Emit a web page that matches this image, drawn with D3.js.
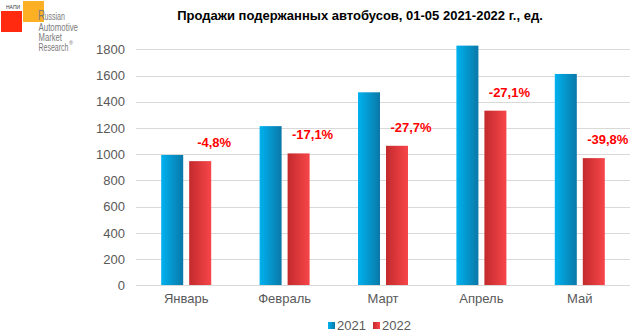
<!DOCTYPE html>
<html>
<head>
<meta charset="utf-8">
<script src="https://cdn.jsdelivr.net/npm/d3@7"></script>
<style>
  html, body { margin: 0; padding: 0; background: #fff; }
  svg { display: block; font-family: "Liberation Sans", Arial, sans-serif; }
</style>
</head>
<body>
<svg id="chart" width="636" height="334"></svg>
<script>
// Monthly sales of used buses, Jan–May
const months = ["Январь", "Февраль", "Март", "Апрель", "Май"];
const series = ["2021", "2022"];
const sales2021 = [994, 1214, 1472, 1828, 1612];
const sales2022 = [947, 1006, 1064, 1332, 970];
const changeLabels = ["-4,8%", "-17,1%", "-27,7%", "-27,1%", "-39,8%"];
const yTicks = [0, 200, 400, 600, 800, 1000, 1200, 1400, 1600, 1800];

const svg = d3.select("#chart");
const margin = { left: 137, right: 7, top: 49, bottom: 49 };
const W = 636, H = 334;

const x0 = d3.scaleBand().domain(months).range([margin.left, W - margin.right]).paddingInner(0).paddingOuter(0);
const x1 = d3.scaleBand().domain(series).range([0, x0.bandwidth()]).paddingInner(0.214).paddingOuter(0.864);
const y = d3.scaleLinear().domain([0, 1800]).range([H - margin.bottom + 0.3, margin.top + 0.3]);

// gradients
const defs = svg.append("defs");
function grad(id, c0, c1) {
  const g = defs.append("linearGradient").attr("id", id).attr("x1", "0").attr("x2", "1").attr("y1", "0").attr("y2", "0");
  g.append("stop").attr("offset", "0").attr("stop-color", c0);
  g.append("stop").attr("offset", "1").attr("stop-color", c1);
}
grad("gBlue", "#00b2ef", "#0a78a8");
grad("gRed", "#c32a2c", "#f7464a");
const fills = { "2021": "url(#gBlue)", "2022": "url(#gRed)" };

// gridlines
svg.append("g").selectAll("line").data(yTicks.filter(d => d > 0)).join("line")
  .attr("x1", margin.left - 1).attr("x2", W - margin.right + 1)
  .attr("y1", d => Math.round(y(d)) + 0.5).attr("y2", d => Math.round(y(d)) + 0.5)
  .attr("stroke", "#d9d9d9").attr("stroke-width", 1);

// y axis labels
const yAxis = d3.axisLeft(y).tickValues(yTicks).tickFormat(d3.format("d")).tickSize(0).tickPadding(12);
const gy = svg.append("g").attr("transform", `translate(${margin.left},0)`).call(yAxis);
gy.select(".domain").remove();
gy.selectAll("text").attr("fill", "#595959").style("font-size", "13px").style("font-family", "Liberation Sans, Arial, sans-serif");

// bars
const rows = months.map((m, i) => ({ month: m, values: [
  { s: "2021", v: sales2021[i] }, { s: "2022", v: sales2022[i] }] }));
const gBars = svg.append("g");
rows.forEach(r => {
  gBars.selectAll(null).data(r.values).join("rect")
    .attr("x", d => x0(r.month) + x1(d.s))
    .attr("width", x1.bandwidth())
    .attr("y", d => y(d.v))
    .attr("height", d => y(0) - y(d.v))
    .attr("fill", d => fills[d.s]);
});

// baseline
svg.append("line")
  .attr("x1", margin.left - 1).attr("x2", W - margin.right + 1)
  .attr("y1", Math.round(y(0)) + 0.5).attr("y2", Math.round(y(0)) + 0.5)
  .attr("stroke", "#d9d9d9").attr("stroke-width", 1);

// category labels
const xAxis = d3.axisBottom(x0).tickSize(0).tickPadding(9);
const gx = svg.append("g").attr("transform", `translate(0,${Math.round(y(0))})`).call(xAxis);
gx.select(".domain").remove();
gx.selectAll("text").attr("fill", "#595959").style("font-size", "13px").style("font-family", "Liberation Sans, Arial, sans-serif");

// change labels above the 2022 bars
svg.append("g").selectAll("text").data(months).join("text")
  .attr("x", (m) => x0(m) + x1("2022") + x1.bandwidth() / 2 + 14)
  .attr("y", (m, i) => y(sales2022[i]) - 14)
  .attr("text-anchor", "middle")
  .attr("fill", "#ff0000")
  .style("font-size", "13px").style("font-weight", "bold")
  .text((m, i) => changeLabels[i]);

// title
svg.append("text").attr("x", 360).attr("y", 20).attr("text-anchor", "middle")
  .style("font-size", "13px").style("font-weight", "bold").attr("fill", "#000")
  .text("Продажи подержанных автобусов, 01-05 2021-2022 г., ед.");

// legend
const legend = svg.append("g").attr("transform", "translate(328,322)");
const legendX = { "2021": 0, "2022": 45 };
series.forEach(s => {
  const g = legend.append("g").attr("transform", `translate(${legendX[s]},0)`);
  g.append("rect").attr("x", 0).attr("y", 0).attr("width", 7).attr("height", 7).attr("fill", fills[s]);
  g.append("text").attr("x", 9).attr("y", 8).attr("fill", "#595959").style("font-size", "13px").text(s);
});

// logo
const logo = svg.append("g");
logo.append("rect").attr("x", 1).attr("y", 11).attr("width", 21).attr("height", 21).attr("fill", "#ff2a0f");
logo.append("rect").attr("x", 23).attr("y", 1).attr("width", 21).attr("height", 21).attr("fill", "#fdb023");
logo.append("text").attr("x", 6).attr("y", 9).style("font-size", "5px").attr("fill", "#333").text("НАПИ");

// wordmark set as one text block with a tall initial letter
const mark = logo.append("text").style("font-size", "10.5px").attr("fill", "#7a7a7a");
mark.append("tspan").attr("x", 38).attr("y", 19.5).style("font-size", "15px").attr("textLength", 7).attr("lengthAdjust", "spacingAndGlyphs").text("R");
mark.append("tspan").attr("x", 44.5).attr("y", 19.5).attr("textLength", 20.5).attr("lengthAdjust", "spacingAndGlyphs").text("ussian");
const logoLines = [
  { t: "Automotive", w: 39.5 },
  { t: "Market", w: 23.5 },
  { t: "Research", w: 30 }
];
logoLines.forEach((l, i) => {
  mark.append("tspan").attr("x", 38.5).attr("y", 31 + i * 10)
    .attr("textLength", l.w).attr("lengthAdjust", "spacingAndGlyphs").text(l.t);
});
mark.append("tspan").attr("x", 69).attr("y", 44.5).style("font-size", "5.5px").text("®");
</script>
</body>
</html>
